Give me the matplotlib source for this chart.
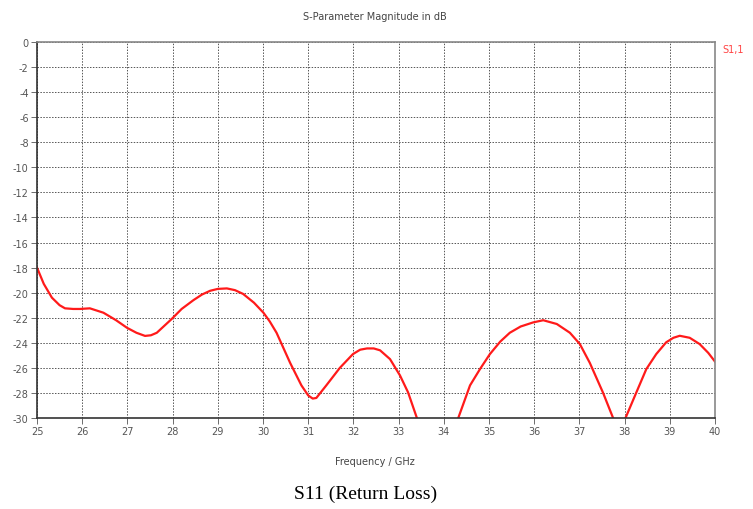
import matplotlib
matplotlib.use("Agg")
import matplotlib.pyplot as plt

freq_ghz = [25.0, 25.15, 25.33, 25.5, 25.62, 25.8, 25.95, 26.17, 26.47, 26.75, 26.99, 27.2,
            27.39, 27.52, 27.65, 27.98, 28.2, 28.46, 28.65, 28.83, 29.0, 29.2, 29.38, 29.56,
            29.8, 30.01, 30.15, 30.3, 30.45, 30.6, 30.85, 31.0, 31.1, 31.18, 31.4, 31.7, 31.99,
            32.15, 32.3, 32.45, 32.59, 32.81, 33.03, 33.21, 33.4, 33.6, 33.86, 34.1, 34.32,
            34.58, 34.8, 35.02, 35.25, 35.46, 35.7, 35.98, 36.2, 36.5, 36.79, 37.01, 37.23,
            37.52, 37.74, 37.88, 38.02, 38.26, 38.48, 38.7, 38.92, 39.08, 39.22, 39.44, 39.66,
            39.85, 40.0]
s11_db = [-18.0, -19.3, -20.4, -21.0, -21.25, -21.3, -21.3, -21.25, -21.6, -22.2, -22.8, -23.2,
          -23.45, -23.4, -23.2, -22.1, -21.3, -20.6, -20.15, -19.85, -19.7, -19.66, -19.8, -20.1,
          -20.8, -21.6, -22.3, -23.2, -24.4, -25.6, -27.4, -28.2, -28.45, -28.4, -27.4, -26.0,
          -24.9, -24.55, -24.45, -24.45, -24.6, -25.3, -26.6, -27.96, -29.95, -32.0, -34.5,
          -32.5, -30.0, -27.4, -26.1, -24.9, -23.9, -23.2, -22.7, -22.37, -22.2, -22.5, -23.2,
          -24.1, -25.6, -27.96, -29.95, -31.0, -30.0, -27.96, -26.1, -24.9, -23.96, -23.6,
          -23.44, -23.6, -24.1, -24.8, -25.5]
x_ticks = list(range(25, 41))
y_ticks = list(range(0, -31, -2))

fig = plt.figure(figsize=(7.53, 5.10), dpi=100)
ax = fig.add_axes([37/753, 1-419/510, (715-37)/753, (419-43)/510])

ax.plot(freq_ghz, s11_db, color="#ff1a1a", lw=1.6)
ax.set_xlim(25, 40)
ax.set_ylim(-30, 0)
ax.set_xticks(x_ticks)
ax.set_yticks(y_ticks)
ax.set_xticklabels([str(t) for t in x_ticks])
ax.set_yticklabels([str(t) for t in y_ticks])
ax.grid(True, color="#555555", linestyle=(0, (1.5, 1.5)), lw=0.7)
ax.tick_params(axis="both", labelsize=7, colors="#555555", length=4, width=0.6,
               direction="out", pad=2)
for side in ["left", "bottom"]:
    ax.spines[side].set_color("#333333")
    ax.spines[side].set_linewidth(1.2)
for side in ["top", "right"]:
    ax.spines[side].set_color("#888888")
    ax.spines[side].set_linewidth(1.2)

fig.text(375/753, 1-17/510, "S-Parameter Magnitude in dB", ha="center", va="center",
         fontsize=7, color="#444444")
fig.text(722/753, 1-50/510, "S1,1", ha="left", va="center", fontsize=7, color="#ff4444")
fig.text(375/753, 1-462/510, "Frequency / GHz", ha="center", va="center",
         fontsize=7, color="#444444")
fig.text(366/753, 1-494/510, "S11 (Return Loss)", ha="center", va="center",
         fontsize=14, family="Liberation Serif", color="black")

fig.savefig("out.png", dpi=100)
